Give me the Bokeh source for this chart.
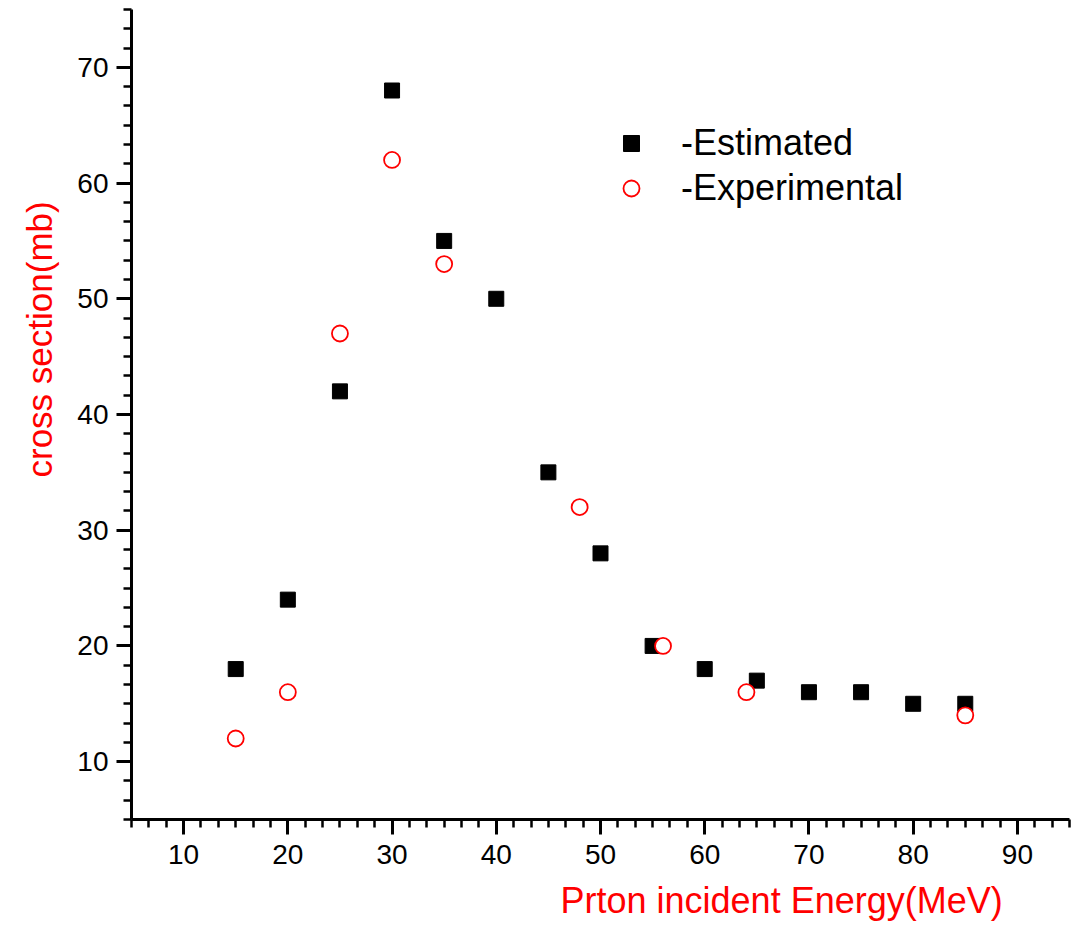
from bokeh.plotting import figure
from bokeh.models import Range1d, SingleIntervalTicker, Legend, LegendItem, Title
from bokeh.embed import file_html
from bokeh.resources import INLINE

# Data
est_energy = [15, 20, 25, 30, 35, 40, 45, 50, 55, 60, 65, 70, 75, 80, 85]
est_xs = [18, 24, 42, 68, 55, 50, 35, 28, 20, 18, 17, 16, 16, 15, 15]
exp_energy = [15, 20, 25, 30, 35, 48, 56, 64, 85]
exp_xs = [12, 16, 47, 62, 53, 32, 20, 16, 14]

FONT = "Liberation Sans"

p = figure(width=1076, height=934, output_backend="svg", toolbar_location=None,
           x_range=Range1d(5, 95), y_range=Range1d(5, 75),
           min_border_left=131, min_border_right=7, min_border_top=9, min_border_bottom=115)
p.outline_line_color = None
p.xgrid.visible = False
p.ygrid.visible = False
p.background_fill_color = "white"
p.border_fill_color = "white"

p.xaxis.ticker = SingleIntervalTicker(interval=10, num_minor_ticks=6)
p.yaxis.ticker = SingleIntervalTicker(interval=10, num_minor_ticks=6)
for ax in (p.xaxis, p.yaxis):
    ax.axis_line_width = 3
    ax.axis_line_color = "black"
    ax.major_tick_line_width = 3
    ax.minor_tick_line_width = 2.5
    ax.major_tick_line_color = "black"
    ax.minor_tick_line_color = "black"
    ax.major_tick_out = 15
    ax.major_tick_in = 0
    ax.minor_tick_out = 8
    ax.minor_tick_in = 0
    ax.major_label_text_font = FONT
    ax.major_label_text_font_size = "28px"
    ax.major_label_text_color = "black"
p.xaxis.major_label_standoff = 10
p.yaxis.major_label_standoff = 8
# blank spacer label to push the y title outward
p.yaxis.axis_label = " "
p.yaxis.axis_label_text_font_size = "1px"
p.yaxis.axis_label_standoff = 9

r_est = p.scatter(est_energy, est_xs, marker="square", size=15, color="black")
r_exp = p.scatter(exp_energy, exp_xs, marker="circle", size=16, line_color="red",
                  line_width=1.8, fill_color="white")

legend = Legend(items=[LegendItem(label="-Estimated", renderers=[r_est]),
                       LegendItem(label="-Experimental", renderers=[r_exp])],
                location=(480, 610), glyph_width=40, glyph_height=40,
                label_standoff=30, spacing=3, padding=0, margin=0,
                border_line_color=None, background_fill_alpha=0,
                label_text_font=FONT, label_text_font_size="36px",
                label_text_color="black")
p.add_layout(legend)

xt = Title(text="Prton incident Energy(MeV)", align="left", offset=429, standoff=22,
           text_font=FONT, text_font_size="36px", text_color="red",
           text_font_style="normal")
p.add_layout(xt, "below")
yt = Title(text="cross section(mb)", align="left", offset=342, standoff=5,
           text_font=FONT, text_font_size="35px", text_color="red",
           text_font_style="normal")
p.add_layout(yt, "left")

open("out.html", "w").write(file_html(p, INLINE))
